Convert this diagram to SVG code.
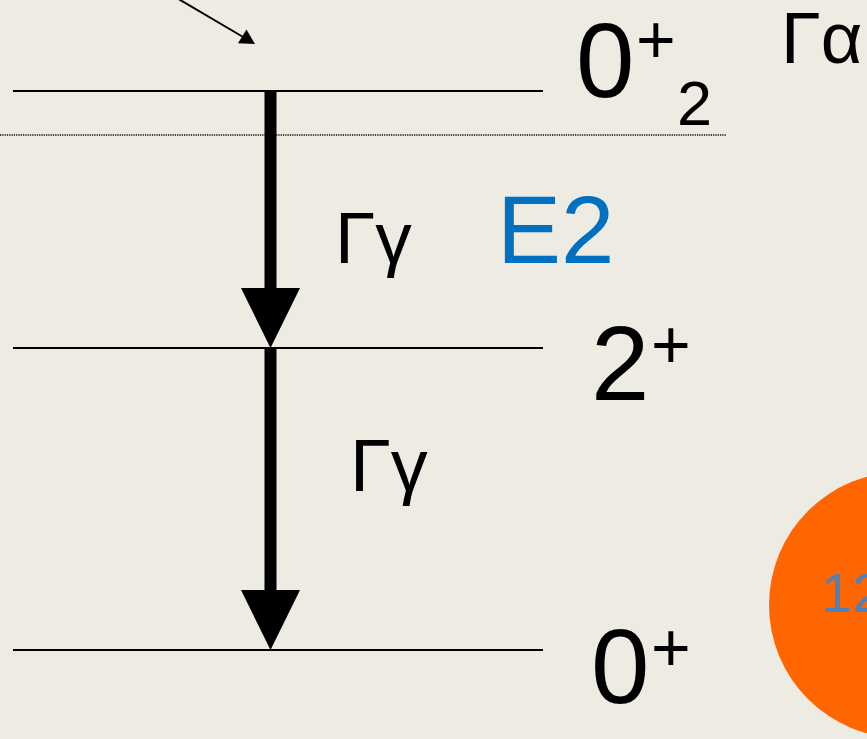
<svg xmlns="http://www.w3.org/2000/svg" width="867" height="739" viewBox="0 0 867 739">
<style>
.lvl{stroke:#000;stroke-width:2;fill:none}
.t{font-family:"Liberation Sans",Arial,sans-serif;fill:#000}
.shaft{stroke:#000;stroke-width:12;fill:none}
.head{fill:#000}
</style>
<rect x="0" y="0" width="867" height="739" fill="#EEEBE3"/>
<line x1="0" y1="135" x2="726" y2="135" stroke="#111" stroke-width="1.5" stroke-dasharray="1.3 1"/>
<g id="level-0plus2">
<line class="lvl" x1="13" y1="91" x2="543" y2="91"/>
<text class="t" x="576" y="97" font-size="105">0</text>
<text class="t" x="636" y="63" font-size="68">+</text>
<text class="t" x="677" y="125" font-size="63">2</text>
</g>
<g id="level-2plus">
<line class="lvl" x1="13" y1="348" x2="543" y2="348"/>
<text class="t" x="591" y="400" font-size="105">2</text>
<text class="t" x="651" y="368" font-size="68">+</text>
</g>
<g id="level-0plus">
<line class="lvl" x1="13" y1="650" x2="543" y2="650"/>
<text class="t" x="591" y="703" font-size="105">0</text>
<text class="t" x="651" y="671" font-size="68">+</text>
</g>
<g id="label-galpha">
<text class="t" x="781" y="63" font-size="72">Γα</text>
</g>
<g id="label-ggamma1">
<text class="t" x="335" y="263" font-size="73">Γγ</text>
</g>
<g id="label-E2">
<text class="t" x="497" y="263" font-size="96" style="fill:#0070C0">E2</text>
</g>
<g id="label-ggamma2">
<text class="t" x="350" y="491" font-size="74">Γγ</text>
</g>
<g id="nucleus">
<circle cx="902" cy="605" r="133" fill="#FF6600"/>
<text class="t" x="821" y="612" font-size="56" style="fill:#4F81BD">12</text>
</g>
<g id="connectors">
<line x1="170" y1="-6" x2="244" y2="37.5" stroke="#000" stroke-width="2"/>
<polygon points="255,44 238,43.3 246.5,29.5" fill="#000"/>
<line class="shaft" x1="270.5" y1="91" x2="270.5" y2="292"/>
<polygon class="head" points="241,288 300,288 270.5,348"/>
<line class="shaft" x1="270.5" y1="348" x2="270.5" y2="594"/>
<polygon class="head" points="241,590 300,590 270.5,650"/>
</g>
</svg>
